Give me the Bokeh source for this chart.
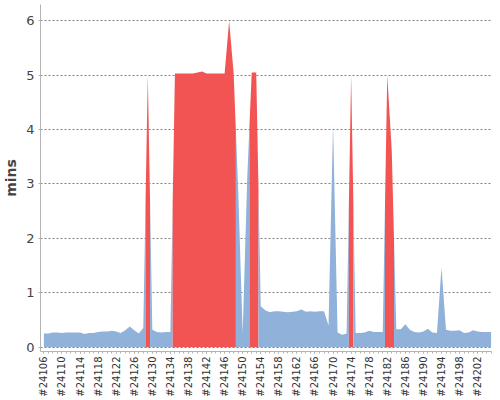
import math
from bokeh.plotting import figure
from bokeh.models import Range1d, FixedTicker
from bokeh.embed import file_html
from bokeh.resources import INLINE

first_build = 24106
durations = [
    0.25, 0.25, 0.27, 0.27, 0.26, 0.27, 0.27, 0.27, 0.27, 0.24,
    0.26, 0.26, 0.28, 0.29, 0.29, 0.30, 0.29, 0.26, 0.31, 0.38,
    0.31, 0.25, 0.35, 5.00, 0.32, 0.28, 0.27, 0.28, 0.28, 5.03,
    5.03, 5.03, 5.03, 5.03, 5.05, 5.07, 5.03, 5.03, 5.03, 5.03,
    5.03, 6.00, 5.03, 2.90, 0.25, 3.10, 5.05, 5.05, 0.75, 0.68,
    0.64, 0.66, 0.66, 0.65, 0.64, 0.65, 0.66, 0.69, 0.65, 0.66,
    0.65, 0.66, 0.66, 0.40, 4.10, 0.27, 0.23, 0.25, 5.00, 0.26,
    0.26, 0.27, 0.30, 0.28, 0.28, 0.28, 5.00, 3.60, 0.33, 0.33,
    0.42, 0.32, 0.28, 0.27, 0.29, 0.34, 0.27, 0.26, 1.47, 0.32,
    0.30, 0.30, 0.31, 0.26, 0.27, 0.31, 0.29, 0.28, 0.28, 0.28,
]
failed_builds = [24129, 24135, 24136, 24137, 24138, 24139, 24140, 24141,
                 24142, 24143, 24144, 24145, 24146, 24147, 24148,
                 24152, 24153, 24174, 24182, 24183]
y_ticks = [0, 1, 2, 3, 4, 5, 6]
label_step = 4

success_color = "#8fb1da"
failure_color = "#f25454"
font = "DejaVu Sans"

n = len(durations)
builds = [first_build + i for i in range(n)]
failed = [b in failed_builds for b in builds]
idx = list(range(n))

p = figure(width=500, height=400, output_backend="svg", toolbar_location=None,
           x_range=Range1d(-0.75, n - 1 + 0.07), y_range=Range1d(-0.08, 6.30),
           min_border_left=39, min_border_right=9, min_border_top=4,
           min_border_bottom=49)
p.background_fill_color = "white"
p.border_fill_color = "white"
p.outline_line_color = None

# contiguous runs of builds with the same result
runs = []
start = 0
for i in range(1, n + 1):
    if i == n or failed[i] != failed[start]:
        runs.append((start, i - 1))
        start = i

for a, b in runs:
    xs, ys = [], []
    if a > 0:
        xs.append(a - 0.5)
        ys.append((durations[a - 1] + durations[a]) / 2)
    for k in range(a, b + 1):
        xs.append(k)
        ys.append(durations[k])
    if b < n - 1:
        xs.append(b + 0.5)
        ys.append((durations[b] + durations[b + 1]) / 2)
    col = failure_color if failed[a] else success_color
    p.varea(x=xs, y1=[0] * len(xs), y2=ys, fill_color=col)

# x axis
major = idx[::label_step]
p.xaxis.ticker = FixedTicker(ticks=major, minor_ticks=idx)
p.xaxis.major_label_overrides = {i: "#%d" % builds[i] for i in major}
p.xaxis.major_label_orientation = math.pi / 2
p.xaxis.major_label_text_font = font
p.xaxis.major_label_text_font_size = "10px"
p.xaxis.major_label_text_color = "#333333"
p.xaxis.major_label_standoff = 3
p.xaxis.axis_line_color = "#b4b4b4"
p.xaxis.major_tick_line_color = "#b4b4b4"
p.xaxis.minor_tick_line_color = "#b4b4b4"
p.xaxis.major_tick_in = 0
p.xaxis.major_tick_out = 2
p.xaxis.minor_tick_in = 0
p.xaxis.minor_tick_out = 2

# y axis
p.yaxis.ticker = FixedTicker(ticks=y_ticks)
p.yaxis.major_label_text_font = font
p.yaxis.major_label_text_font_size = "13px"
p.yaxis.major_label_text_color = "#444444"
p.yaxis.major_label_standoff = 4
p.yaxis.axis_line_color = "#b4b4b4"
p.yaxis.major_tick_line_color = "#b4b4b4"
p.yaxis.minor_tick_line_color = None
p.yaxis.major_tick_in = 0
p.yaxis.major_tick_out = 2
p.yaxis.axis_label = "mins"
p.yaxis.axis_label_text_font = font
p.yaxis.axis_label_text_font_style = "bold"
p.yaxis.axis_label_text_font_size = "14px"
p.yaxis.axis_label_text_color = "#444444"
p.yaxis.axis_label_standoff = 4

p.xgrid.visible = False
p.ygrid.grid_line_color = "#808080"
p.ygrid.grid_line_dash = "2 2"
p.ygrid.grid_line_width = 1

open("out.html", "w").write(file_html(p, INLINE))
